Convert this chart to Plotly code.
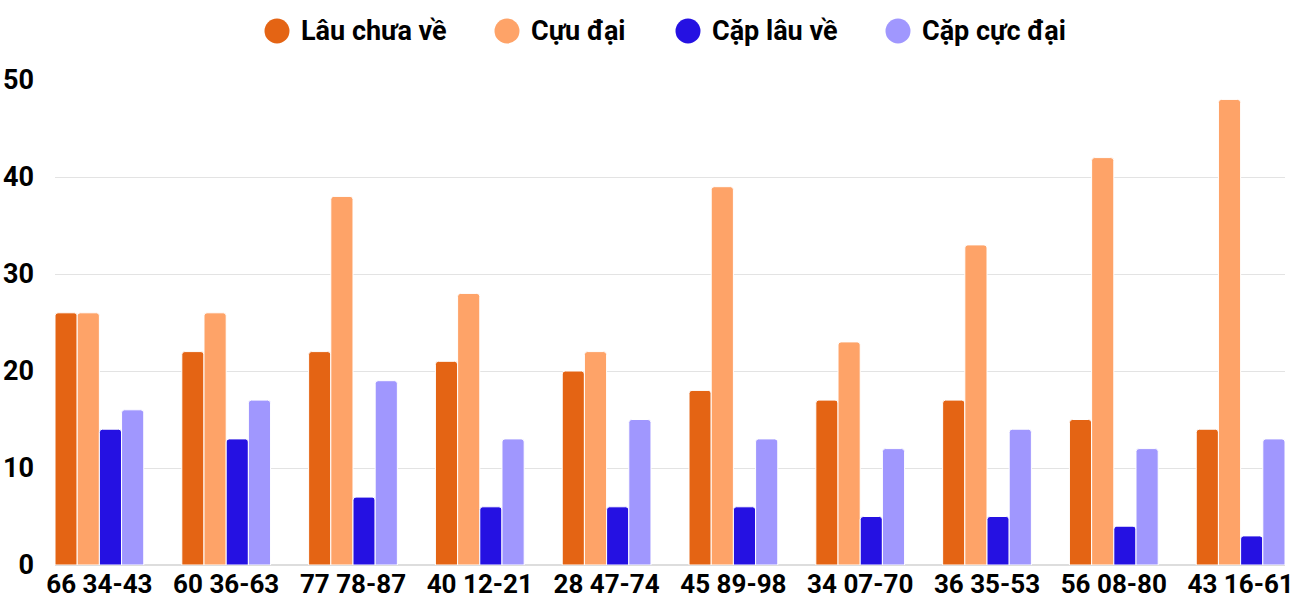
import plotly.graph_objects as go

categories = ["66 34-43", "60 36-63", "77 78-87", "40 12-21", "28 47-74",
              "45 89-98", "34 07-70", "36 35-53", "56 08-80", "43 16-61"]
lau_chua_ve = [26, 22, 22, 21, 20, 18, 17, 17, 15, 14]
cuu_dai = [26, 26, 38, 28, 22, 39, 23, 33, 42, 48]
cap_lau_ve = [14, 13, 7, 6, 6, 6, 5, 5, 4, 3]
cap_cuc_dai = [16, 17, 19, 13, 15, 13, 12, 14, 12, 13]

series_names = ["Lâu chưa về", "Cựu đại", "Cặp lâu về", "Cặp cực đại"]
series_values = [lau_chua_ve, cuu_dai, cap_lau_ve, cap_cuc_dai]
colors = ["#E46414", "#FEA368", "#2511E2", "#A097FE"]

# custom legend layout (pixel positions of each legend item's circle centre)
legend_px = [277, 507, 688, 898]

W, H = 1300, 600
ML, MR, MT, MB = 55, 15, 80, 35
plot_w = W - ML - MR
plot_h = H - MT - MB
legend_y_px = 31

font_family = "Roboto, Arial, sans-serif"
FS = 27

fig = go.Figure()
for name, vals, col in zip(series_names, series_values, colors):
    fig.add_trace(go.Bar(
        x=categories, y=vals, name=name, showlegend=False,
        marker=dict(color=col, line=dict(color="white", width=1)),
        hoverinfo="x+y+name",
    ))

# legend drawn as circles + labels
ly = (H - MB - legend_y_px) / plot_h
for name, col, px in zip(series_names, colors, legend_px):
    xc = (px - ML) / plot_w
    fig.add_shape(type="circle", xref="paper", yref="paper",
                  xsizemode="pixel", ysizemode="pixel",
                  xanchor=xc, yanchor=ly, x0=-12.5, x1=12.5, y0=-12.5, y1=12.5,
                  fillcolor=col, line=dict(width=0))
    fig.add_annotation(x=(px + 22 - ML) / plot_w, y=ly, xref="paper", yref="paper",
                       text=name, showarrow=False, xanchor="left", yanchor="middle",
                       font=dict(family=font_family, size=FS, color="black", weight="bold"))

n = len(categories)
bargap = 0.3
fig.update_layout(
    width=W, height=H,
    margin=dict(l=ML, r=MR, t=MT, b=MB),
    paper_bgcolor="white", plot_bgcolor="white",
    barmode="group", bargap=bargap, bargroupgap=0.0,
    barcornerradius=3,
    showlegend=False,
    font=dict(family=font_family, size=FS, color="black", weight="bold"),
    xaxis=dict(showgrid=False, showline=False, ticks="", automargin=False,
               range=[-0.5 + bargap / 2, n - 0.5 - bargap / 2],
               ticklabelstandoff=1,
               tickfont=dict(family=font_family, size=26, color="black", weight="bold")),
    yaxis=dict(range=[0, 50], dtick=10, showgrid=True, gridcolor="#e3e3e3", gridwidth=1,
               zeroline=True, zerolinecolor="#dddddd", zerolinewidth=2,
               ticks="", ticklabelstandoff=20, automargin=False,
               tickfont=dict(family=font_family, size=FS, color="black", weight="bold")),
)

fig.write_html("out.html")
